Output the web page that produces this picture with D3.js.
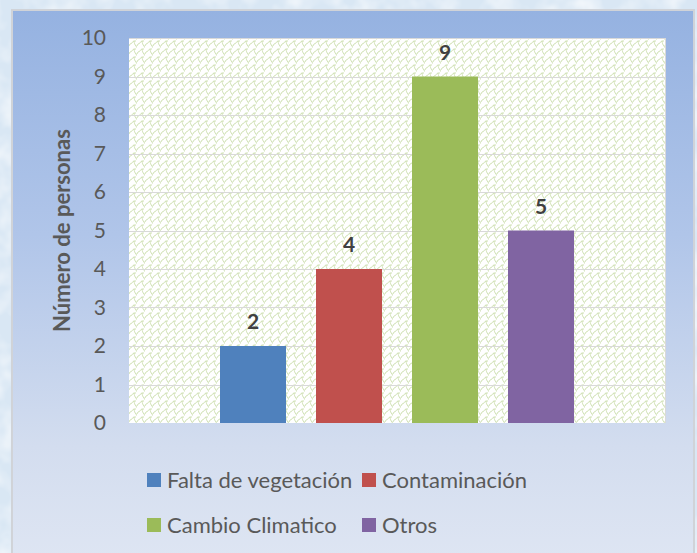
<!DOCTYPE html>
<html>
<head>
<meta charset="utf-8">
<script src="https://cdn.jsdelivr.net/npm/d3@7"></script>
<style>
  html, body { margin: 0; padding: 0; background: #e3edf7; }
  svg { display: block; }
</style>
</head>
<body>
<svg id="chart" width="697" height="553"></svg>
<script>
// Causes reported and number of people for each
const series = ["Falta de vegetación", "Contaminación", "Cambio Climatico", "Otros"];
const values = [2, 4, 9, 5];
const colors = ["#4f81bd", "#c0504d", "#9bbb59", "#8064a2"];
const yTicks = [0, 1, 2, 3, 4, 5, 6, 7, 8, 9, 10];
const yTitle = "Número de personas";

const W = 697, H = 553;
const font = "Lato, 'Open Sans', sans-serif";
const svg = d3.select("#chart");
const defs = svg.append("defs");

// soft icy backdrop texture
const tex = defs.append("filter").attr("id", "ice").attr("x", 0).attr("y", 0).attr("width", 1).attr("height", 1);
tex.append("feTurbulence").attr("type", "fractalNoise").attr("baseFrequency", 0.035).attr("numOctaves", 3).attr("seed", 4).attr("result", "n");
tex.append("feColorMatrix").attr("in", "n").attr("type", "matrix")
  .attr("values", "0 0 0 0 1  0 0 0 0 1  0 0 0 0 1  0 0 0 1.4 -0.55");
svg.append("rect").attr("width", W).attr("height", H).attr("fill", "#d9e7f4");
svg.append("rect").attr("width", W).attr("height", H).attr("filter", "url(#ice)");

// chart box gradient
const grad = defs.append("linearGradient").attr("id", "boxGrad")
  .attr("x1", 0).attr("y1", 0).attr("x2", 0).attr("y2", 1);
[["0%", "#95b2e1"], ["40%", "#b0c5e9"], ["78%", "#d3ddef"], ["100%", "#dfe6f3"]]
  .forEach(([o, c]) => grad.append("stop").attr("offset", o).attr("stop-color", c));

svg.append("rect")
  .attr("x", 12).attr("y", 10).attr("width", 682).attr("height", 560)
  .attr("fill", "url(#boxGrad)").attr("stroke", "#d0d3d8").attr("stroke-width", 2);

// wave fill of the plot area
const pat = defs.append("pattern").attr("id", "wave")
  .attr("width", 8).attr("height", 8).attr("patternUnits", "userSpaceOnUse");
pat.append("rect").attr("width", 8).attr("height", 8).attr("fill", "#ffffff");
pat.append("path")
  .attr("d", "M0,6.5 C1.5,6.5 1.5,3.5 3,3.5 C4.5,3.5 4.5,1 6,1 L8,1 M6,1 C6,3 7,4.5 8,6.5 M0,6.5 L0,8")
  .attr("fill", "none").attr("stroke", "#cadcaa").attr("stroke-width", 0.9);

const plot = { left: 129, top: 38, right: 665, bottom: 423 };

const y = d3.scaleLinear().domain([0, 10]).range([plot.bottom, plot.top]);
const x = d3.scaleBand().domain(series)
  .range([plot.left, plot.right])
  .paddingInner(0.3125).paddingOuter(0.948);

svg.append("rect")
  .attr("x", plot.left).attr("y", plot.top)
  .attr("width", plot.right - plot.left).attr("height", plot.bottom - plot.top)
  .attr("fill", "url(#wave)");

// horizontal gridlines
svg.append("g").selectAll("line").data(yTicks.filter(t => t > 0)).join("line")
  .attr("x1", plot.left).attr("x2", plot.right)
  .attr("y1", d => Math.round(y(d)) + 0.5).attr("y2", d => Math.round(y(d)) + 0.5)
  .attr("stroke", "#d9d9d9").attr("stroke-width", 1.2);
svg.append("line")
  .attr("x1", plot.right + 0.5).attr("x2", plot.right + 0.5)
  .attr("y1", plot.top).attr("y2", plot.bottom)
  .attr("stroke", "#d9d9d9");

// y axis
const yAxis = d3.axisLeft(y).tickValues(yTicks).tickSize(0).tickPadding(23);
const gy = svg.append("g").attr("transform", `translate(${plot.left},0)`).call(yAxis);
gy.select(".domain").remove();
gy.selectAll("text")
  .attr("font-family", font).attr("font-size", 21).attr("fill", "#595959");

svg.append("text")
  .attr("transform", `translate(70,${(plot.top + plot.bottom) / 2}) rotate(-90)`)
  .attr("text-anchor", "middle")
  .attr("font-family", font).attr("font-size", 22).attr("font-weight", "bold")
  .attr("fill", "#595959")
  .text(yTitle);

// bars
const data = series.map((s, i) => ({ s, v: values[i], c: colors[i] }));
svg.append("g").selectAll("rect").data(data).join("rect")
  .attr("x", d => x(d.s)).attr("width", x.bandwidth())
  .attr("y", d => y(d.v)).attr("height", d => y(0) - y(d.v))
  .attr("fill", d => d.c);

// value labels
svg.append("g").selectAll("text").data(data).join("text")
  .attr("x", d => x(d.s) + x.bandwidth() / 2)
  .attr("y", d => y(d.v) - 17)
  .attr("text-anchor", "middle")
  .attr("font-family", font).attr("font-size", 21).attr("font-weight", "bold")
  .attr("fill", "#404040")
  .text(d => d.v);

// legend, two items per row
const legCols = [147, 362], legRows = [473, 518];
const leg = svg.append("g").selectAll("g").data(data).join("g")
  .attr("transform", (d, i) => `translate(${legCols[i % 2]},${legRows[Math.floor(i / 2)]})`);
leg.append("rect").attr("width", 14).attr("height", 14).attr("fill", d => d.c);
leg.append("text")
  .attr("x", 20).attr("y", 14.5)
  .attr("font-family", font).attr("font-size", 22)
  .attr("fill", "#595959")
  .text(d => d.s);
</script>
</body>
</html>
